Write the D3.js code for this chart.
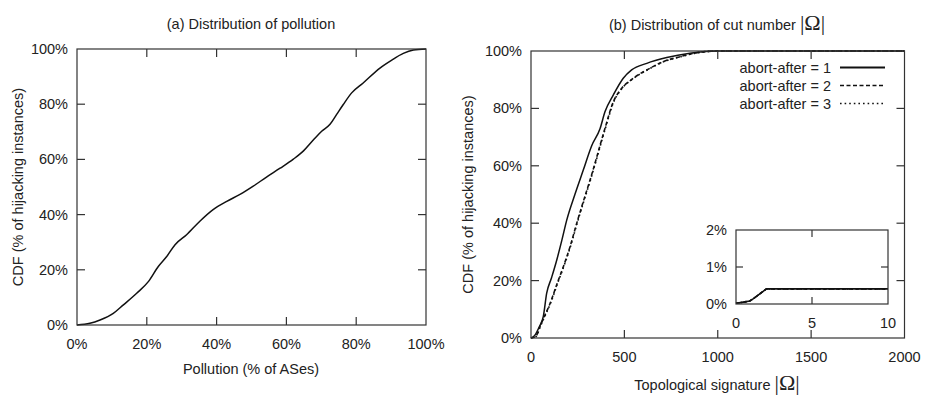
<!DOCTYPE html>
<html>
<head>
<meta charset="utf-8">
<script src="https://cdn.jsdelivr.net/npm/d3@7"></script>
<style>
  body { margin: 0; background: #fff; }
  svg { display: block; font-family: "Liberation Sans", Arial, sans-serif; }
  text { fill: #222; }
</style>
</head>
<body>
<div id="chart"></div>
<script>
// (a) pollution CDF: [pollution %, CDF %]
const pollutionCdf = [
  [0, 0], [3.7, 0.6], [6.6, 1.8], [10.4, 4.2], [13.3, 7.3], [17.1, 11.5], [20.5, 15.8],
  [23.3, 21.2], [25.7, 24.8], [28.1, 29.1], [31.4, 32.7], [35.2, 37.6], [39, 41.8],
  [42.9, 44.8], [46.7, 47.3], [50.5, 50.3], [54.3, 53.6], [58.2, 56.8], [62, 60.1],
  [64.9, 63.1], [67.7, 67], [70.1, 70.2], [72.5, 72.7], [74.4, 76.3], [76.3, 79.9],
  [78.7, 84.1], [82, 87.7], [86.8, 93.1], [90.2, 96], [93.5, 98.4], [96.4, 99.6], [100, 100]
];

// (b) cut number CDF, one array per abort-after setting: [|Ω|, CDF %]
const abortAfter1 = [
  [0, 0], [21, 1], [45, 4], [66, 7.5], [84, 15.6], [110, 21], [138, 27.2], [165, 34],
  [191, 41], [235, 50], [280, 58.5], [325, 67], [370, 73], [396, 78.8], [441, 84.7],
  [494, 90.5], [539, 93.4], [620, 95.7], [727, 97.7], [851, 99.2], [994, 100], [2000, 100]
];
const abortAfter2 = [
  [0, 0], [25, 0.5], [48, 4], [75, 8], [102, 12], [140, 19], [173, 24.8], [210, 32],
  [245, 40], [280, 47.5], [316, 55], [352, 63], [378, 69], [396, 73], [441, 82.3],
  [486, 87], [548, 90.5], [637, 94], [708, 96.3], [798, 98], [880, 99.3], [1000, 100], [2000, 100]
];
const abortAfter3 = [
  [0, 0], [27, 0.5], [50, 4], [77, 8], [104, 12], [142, 19], [175, 24.8], [212, 32],
  [247, 40], [282, 47.5], [318, 55], [354, 63], [380, 69], [398, 73], [443, 82.3],
  [488, 87], [550, 90.5], [640, 94], [711, 96.3], [801, 98], [883, 99.3], [1003, 100], [2000, 100]
];

// inset: first 10 cuts
const insetCdf = [[0, 0.02], [0.5, 0.05], [0.9, 0.08], [1.1, 0.13], [2, 0.41], [10, 0.41]];

const pctTicks = [0, 20, 40, 60, 80, 100];
const omegaTicks = [0, 500, 1000, 1500, 2000];
const insetXTicks = [0, 5, 10];
const insetYTicks = [0, 1, 2];

const legendLabels = ['abort-after = 1', 'abort-after = 2', 'abort-after = 3'];
const dashes = [null, '4,2.5', '1.6,3'];

const svg = d3.select('#chart').append('svg')
  .attr('width', 925).attr('height', 398);

const FS = 14.5;
const frameColor = '#333';

function box(x, y) {
  const [x0, x1] = x.range();
  const [y0, y1] = y.range();
  svg.append('rect')
    .attr('x', x0).attr('y', y1)
    .attr('width', x1 - x0).attr('height', y0 - y1)
    .attr('fill', 'none').attr('stroke', frameColor).attr('stroke-width', 1.2);
}

// mirror ticks drawn inward on all four sides (gnuplot style)
function ticks(x, y, xt, yt, len) {
  const [x0, x1] = x.range();
  const [y0, y1] = y.range();
  const g = svg.append('g').attr('stroke', frameColor).attr('stroke-width', 1.2);
  xt.forEach(t => {
    if (t === x.domain()[0] || t === x.domain()[1]) return;
    g.append('line').attr('x1', x(t)).attr('x2', x(t)).attr('y1', y0).attr('y2', y0 - len);
    g.append('line').attr('x1', x(t)).attr('x2', x(t)).attr('y1', y1).attr('y2', y1 + len);
  });
  yt.forEach(t => {
    if (t === y.domain()[0] || t === y.domain()[1]) return;
    g.append('line').attr('x1', x0).attr('x2', x0 + len).attr('y1', y(t)).attr('y2', y(t));
    g.append('line').attr('x1', x1).attr('x2', x1 - len).attr('y1', y(t)).attr('y2', y(t));
  });
}

function tickLabels(x, y, xt, yt, xFmt, yFmt, xBase, yRight) {
  svg.append('g').selectAll('text').data(xt).join('text')
    .attr('x', d => x(d)).attr('y', xBase)
    .attr('text-anchor', 'middle').attr('font-size', FS)
    .text(xFmt);
  svg.append('g').selectAll('text').data(yt).join('text')
    .attr('x', yRight).attr('y', d => y(d) + 5)
    .attr('text-anchor', 'end').attr('font-size', FS)
    .text(yFmt);
}

const pct = d => d + '%';

// ---------- (a) ----------
const xa = d3.scaleLinear().domain([0, 100]).range([77, 426]);
const ya = d3.scaleLinear().domain([0, 100]).range([325, 49]);

svg.append('path')
  .datum(pollutionCdf)
  .attr('fill', 'none').attr('stroke', '#111').attr('stroke-width', 1.5)
  .attr('d', d3.line().curve(d3.curveMonotoneX).x(d => xa(d[0])).y(d => ya(d[1])));

box(xa, ya);
ticks(xa, ya, pctTicks, pctTicks, 8);
tickLabels(xa, ya, pctTicks, pctTicks, pct, pct, 349, 68);

svg.append('text').attr('x', 251).attr('y', 29)
  .attr('text-anchor', 'middle').attr('font-size', FS)
  .text('(a) Distribution of pollution');
svg.append('text').attr('x', 251).attr('y', 374)
  .attr('text-anchor', 'middle').attr('font-size', FS)
  .text('Pollution (% of ASes)');
svg.append('text')
  .attr('transform', 'translate(23,187) rotate(-90)')
  .attr('text-anchor', 'middle').attr('font-size', FS)
  .text('CDF (% of hijacking instances)');

// ---------- (b) ----------
const xb = d3.scaleLinear().domain([0, 2000]).range([531, 904.5]);
const yb = d3.scaleLinear().domain([0, 100]).range([338, 51]);
const lineB = d3.line().curve(d3.curveMonotoneX).x(d => xb(d[0])).y(d => yb(d[1]));

const seriesB = [abortAfter1, abortAfter2, abortAfter3];
seriesB.forEach((s, i) => {
  svg.append('path').datum(s)
    .attr('fill', 'none').attr('stroke', '#111')
    .attr('stroke-width', i === 0 ? 1.5 : 1.6)
    .attr('stroke-dasharray', dashes[i])
    .attr('d', lineB);
});

box(xb, yb);
ticks(xb, yb, omegaTicks, pctTicks, 8);
tickLabels(xb, yb, omegaTicks, pctTicks, d => d, pct, 362, 522);

const titleB = svg.append('text').attr('x', 717).attr('y', 30)
  .attr('text-anchor', 'middle').attr('font-size', FS);
titleB.append('tspan').text('(b) Distribution of cut number ');
titleB.append('tspan').attr('font-size', 22).attr('font-family', 'Liberation Serif, serif').text('|Ω|');

const xlabB = svg.append('text').attr('x', 717).attr('y', 390)
  .attr('text-anchor', 'middle').attr('font-size', FS);
xlabB.append('tspan').text('Topological signature ');
xlabB.append('tspan').attr('font-size', 22).attr('font-family', 'Liberation Serif, serif').text('|Ω|');

svg.append('text')
  .attr('transform', 'translate(473,194.5) rotate(-90)')
  .attr('text-anchor', 'middle').attr('font-size', FS)
  .text('CDF (% of hijacking instances)');

// legend
const legend = svg.append('g');
legendLabels.forEach((lab, i) => {
  const cy = 67.5 + i * 18;
  legend.append('text').attr('x', 831).attr('y', cy + 5)
    .attr('text-anchor', 'end').attr('font-size', FS).text(lab);
  legend.append('line')
    .attr('x1', 840).attr('x2', 885).attr('y1', cy).attr('y2', cy)
    .attr('stroke', '#111').attr('stroke-width', i === 0 ? 1.8 : 1.6)
    .attr('stroke-dasharray', dashes[i]);
});

// inset
const xi = d3.scaleLinear().domain([0, 10]).range([736, 888]);
const yi = d3.scaleLinear().domain([0, 2]).range([304, 230]);
svg.append('rect')
  .attr('x', 736).attr('y', 230).attr('width', 152).attr('height', 74)
  .attr('fill', '#fff');
const lineI = d3.line().x(d => xi(d[0])).y(d => yi(d[1]));
[0, 1, 2].forEach(i => {
  svg.append('path').datum(insetCdf)
    .attr('fill', 'none').attr('stroke', '#111').attr('stroke-width', 1.6)
    .attr('stroke-dasharray', dashes[i])
    .attr('d', lineI);
});
box(xi, yi);
ticks(xi, yi, insetXTicks, insetYTicks, 7);
tickLabels(xi, yi, insetXTicks, insetYTicks, d => d, pct, 328, 727);
</script>
</body>
</html>
